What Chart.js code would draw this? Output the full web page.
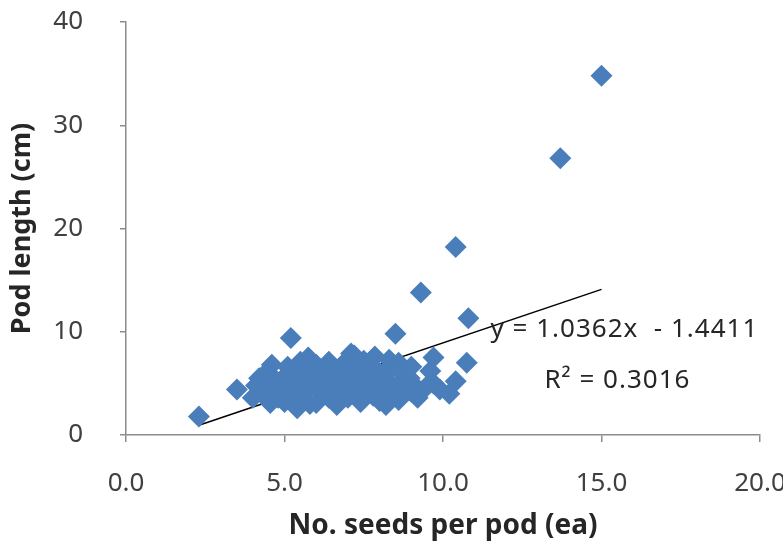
<!DOCTYPE html>
<html>
<head>
<meta charset="utf-8">
<script src="https://cdn.jsdelivr.net/npm/chart.js@4/dist/chart.umd.min.js"></script>
<style>
  html, body { margin: 0; padding: 0; background: #ffffff; }
  #wrap { width: 783px; height: 544px; }
</style>
</head>
<body>
<div id="wrap"><canvas id="c" width="783" height="544"></canvas></div>
<script>
// Number of seeds per pod (ea)
const seedsPerPod = [
  2.3, 3.5, 5.2, 8.5, 9.3, 10.4, 10.8, 13.7, 15.0, 9.7, 10.75, 10.2, 10.4,
  4.0, 4.1, 4.2,
  4.55, 4.4, 4.6, 4.6, 4.5,
  5.0, 4.9, 5.0, 5.1, 5.4, 5.3, 5.4, 5.3, 5.5,
  5.75, 5.8, 5.7, 5.8, 5.9,
  6.0, 6.2, 6.2, 6.4, 6.3,
  6.65, 6.75, 6.6, 6.7, 6.8,
  7.1, 7.2, 7.0, 7.1, 7.2, 7.4, 7.4,
  7.6, 7.7, 7.85, 7.8, 7.7,
  8.2, 8.3, 8.1, 8.2, 8.3,
  8.6, 8.6, 8.7, 8.6,
  9.0, 8.95, 9.0, 9.45, 9.6, 9.2,
  9.7, 9.9,
  4.3, 4.8, 4.8, 5.2, 5.6, 5.6, 6.0, 6.0, 6.4, 6.5,
  6.9, 6.95, 7.3, 7.5, 7.5, 7.9, 8.0, 8.0, 8.4, 8.5,
  8.8, 8.4, 7.0, 6.2, 5.1, 9.1, 4.35
];
// Pod length (cm)
const podLength = [
  1.8, 4.4, 9.4, 9.8, 13.8, 18.2, 11.3, 26.8, 34.8, 7.5, 7.0, 4.0, 5.2,
  3.6, 4.8, 5.5,
  3.1, 4.2, 5.4, 6.8, 6.0,
  3.2, 4.4, 5.6, 6.6, 2.6, 3.8, 5.0, 6.2, 7.1,
  7.5, 3.0, 4.3, 5.5, 6.5,
  3.1, 4.0, 5.2, 7.1, 6.2,
  2.9, 3.4, 4.6, 5.6, 6.7,
  7.9, 7.7, 3.6, 4.8, 6.0, 4.2, 3.2,
  5.3, 6.6, 7.6, 3.8, 4.6,
  2.9, 7.3, 4.2, 5.4, 6.4,
  3.4, 4.8, 6.0, 7.0,
  4.2, 5.5, 6.6, 4.6, 6.2, 3.6,
  5.0, 4.4,
  4.0, 3.6, 5.0, 4.4, 3.4, 6.0, 4.6, 6.8, 3.6, 5.0,
  4.2, 6.2, 5.2, 6.6, 7.2, 5.0, 6.0, 3.3, 4.8, 3.8,
  5.4, 6.8, 7.3, 5.8, 5.9, 4.8, 5.8
];

// Linear fit reported on the chart
const fitSlope = 1.0362;
const fitIntercept = -1.4411;
const fitRSquared = 0.3016;
const fitRange = [2.3, 15.0];

const xTicks = [0, 5, 10, 15, 20];
const yTicks = [0, 10, 20, 30, 40];

const points = seedsPerPod.map((x, i) => ({ x: x, y: podLength[i] }));
const fitLine = fitRange.map(x => ({ x: x, y: fitSlope * x + fitIntercept }));

const axisGray = '#8c8c8c';
const tickColor = '#404040';
const fontFamily = '"Noto Sans", "DejaVu Sans", sans-serif';

// Writes the regression equation and R² beside the fitted line
const equationLabel = {
  id: 'equationLabel',
  afterDatasetsDraw(chart) {
    const { ctx, scales } = chart;
    const xs = scales.x, ys = scales.y;
    ctx.save();
    ctx.fillStyle = '#262626';
    ctx.font = '26px ' + fontFamily;
    ctx.letterSpacing = '1px';
    ctx.textBaseline = 'middle';
    ctx.textAlign = 'left';
    const eq = 'y = ' + fitSlope.toFixed(4) + 'x  - ' + Math.abs(fitIntercept).toFixed(4);
    ctx.fillText(eq, xs.getPixelForValue(11.5), ys.getPixelForValue(10.2));
    ctx.fillText('R² = ' + fitRSquared.toFixed(4), xs.getPixelForValue(13.2), ys.getPixelForValue(5.3));
    ctx.restore();
  }
};

// Tick-label overflow is already covered by the layout padding
function clearScalePadding(scale) {
  scale.paddingTop = 0;
  scale.paddingBottom = 0;
  scale.paddingLeft = 0;
  scale.paddingRight = 0;
}

new Chart(document.getElementById('c'), {
  type: 'scatter',
  data: {
    datasets: [
      {
        label: 'Pod length',
        data: points,
        pointStyle: 'rectRot',
        pointRadius: 11,
        pointHoverRadius: 11,
        backgroundColor: '#4a7ebb',
        borderWidth: 0
      },
      {
        label: 'Linear fit',
        type: 'line',
        data: fitLine,
        borderColor: '#000000',
        borderWidth: 1.5,
        pointRadius: 0,
        fill: false
      }
    ]
  },
  options: {
    responsive: false,
    animation: false,
    events: [],
    layout: { padding: { top: 22, right: 23, bottom: 1, left: 6 } },
    plugins: {
      legend: { display: false },
      tooltip: { enabled: false }
    },
    scales: {
      x: {
        type: 'linear',
        min: 0,
        max: 20,
        afterBuildTicks(scale) { scale.ticks = xTicks.map(v => ({ value: v })); },
        afterFit(scale) { scale.height = 108; clearScalePadding(scale); },
        border: { display: true, color: axisGray, width: 1.5 },
        grid: { display: true, drawOnChartArea: false, drawTicks: true, tickLength: 7, color: axisGray, lineWidth: 1.5 },
        ticks: {
          color: tickColor,
          font: { family: fontFamily, size: 26 },
          padding: 26,
          maxRotation: 0,
          callback: v => Number(v).toFixed(1)
        },
        title: {
          display: true,
          text: 'No. seeds per pod (ea)',
          color: '#262626',
          font: { family: fontFamily, size: 28, weight: 'bold' },
          padding: { top: 4, bottom: 0 }
        }
      },
      y: {
        type: 'linear',
        min: 0,
        max: 40,
        afterBuildTicks(scale) { scale.ticks = yTicks.map(v => ({ value: v })); },
        afterFit(scale) { scale.width = 120; clearScalePadding(scale); },
        border: { display: true, color: axisGray, width: 1.5 },
        grid: { display: true, drawOnChartArea: false, drawTicks: true, tickLength: 6, color: axisGray, lineWidth: 1.5 },
        ticks: {
          color: tickColor,
          font: { family: fontFamily, size: 26 },
          padding: 37,
          callback: v => String(v)
        },
        title: {
          display: true,
          text: 'Pod length (cm)',
          color: '#262626',
          font: { family: fontFamily, size: 27, weight: 'bold' },
          padding: { top: 0, bottom: 0 }
        }
      }
    }
  },
  plugins: [equationLabel]
});
</script>
</body>
</html>
